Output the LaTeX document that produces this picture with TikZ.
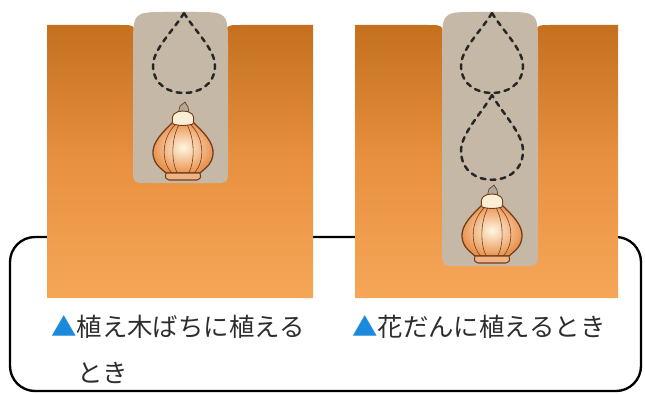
\documentclass[tikz,border=0pt]{standalone}
\usepackage{fontspec}
\newfontfamily\jpfont{Noto Sans CJK JP}

\definecolor{soiltop}{RGB}{196,112,30}
\definecolor{soilmid}{RGB}{232,145,64}
\definecolor{soilbot}{RGB}{246,166,88}
\definecolor{holegrey}{RGB}{198,184,166}
\definecolor{bulbline}{RGB}{112,62,30}
\definecolor{bulbskin}{RGB}{234,146,78}
\definecolor{bulbcore}{RGB}{255,246,226}
\definecolor{collarcream}{RGB}{250,238,212}
\definecolor{tipgrey}{RGB}{176,168,154}
\definecolor{capblue}{RGB}{28,138,220}
\definecolor{captext}{RGB}{45,45,45}

\tikzset{
  soil/.style={top color=soiltop, bottom color=soilbot, middle color=soilmid},
  hole/.style={fill=holegrey},
  dashes/.style={draw=black!85, line width=2.1pt, dash pattern=on 4.2pt off 4.4pt, line cap=round},
  frame/.style={draw=black, line width=2pt, rounded corners=0.75cm},
  caption/.style={font=\jpfont\fontsize{21.7pt}{26pt}\selectfont, text=captext, inner sep=0pt, anchor=west},
  % dashed outline of a bulb that is planted too shallow
  teardrop/.pic={
    \draw[dashes] (0,0) .. controls (-10,17) and (-32,37) .. (-31,54)
      .. controls (-30,72) and (-15,80) .. (0,80)
      .. controls (15,80) and (30,72) .. (31,54)
      .. controls (32,37) and (10,17) .. (0,0);
  },
  % tulip bulb, tip of the shoot at the origin
  bulb/.pic={
    \filldraw[fill=tipgrey, draw=bulbline, line width=0.6pt]
      (-5,12) -- (-3,4) -- (2,0) -- (5,5) -- (6,12) -- cycle;
    \draw[draw=bulbline, line width=1.1pt, inner color=bulbcore, outer color=bulbskin]
      (-10,20) .. controls (-20,30) and (-31,40) .. (-30,52)
      .. controls (-29,63) and (-21,67) .. (-17,71) -- (17,71)
      .. controls (21,67) and (29,63) .. (30,52)
      .. controls (31,40) and (20,30) .. (10,20) -- cycle;
    \foreach \m/\t in {-22/-7, -12/-3.5, 12/3.5, 22/7}
      \draw[bulbline, line width=0.5pt] (\t,22) .. controls (\m,36) and (\m,60) .. ({\t*1.6},71);
    \filldraw[fill=bulbskin!70!white, draw=bulbline, line width=0.9pt]
      (-17,71) .. controls (-18,76) .. (-14,78) -- (14,78) .. controls (18,76) .. (17,71) -- cycle;
    \filldraw[fill=collarcream, draw=bulbline, line width=0.8pt]
      (-10,22) .. controls (-13,12) and (-7,9) .. (0,9)
      .. controls (7,9) and (13,12) .. (10,22)
      .. controls (4,24) and (-4,24) .. (-10,22) -- cycle;
  }
}

\begin{document}
\begin{tikzpicture}[x=0.03cm, y=-0.03cm]
  \useasboundingbox (0,0) rectangle (645,394);

  % caption frame
  \draw[frame] (10,237) rectangle (641,391);

  % flower pot: soil with a shallow hole
  \shade[soil] (47,25) -- (120,25) .. controls (135,25) .. (135,40) -- (135,100) -- (226,100)
    -- (226,40) .. controls (226,25) .. (241,25) -- (313,25) -- (313,298) -- (47,298) -- cycle;
  \fill[hole] (133,48) .. controls (133,12) .. (167,12) -- (194,12) .. controls (228,12) .. (228,48)
    -- (228,168) .. controls (228,183) .. (213,183) -- (148,183) .. controls (133,183) .. (133,168) -- cycle;
  \pic at (184,13) {teardrop};
  \pic at (183,102) {bulb};

  % flower bed: soil with a deep hole
  \shade[soil] (355,25) -- (428,25) .. controls (443,25) .. (443,40) -- (443,100) -- (536,100)
    -- (536,40) .. controls (536,25) .. (551,25) -- (618,25) -- (618,298) -- (355,298) -- cycle;
  \fill[hole] (442,48) .. controls (442,12) .. (476,12) -- (504,12) .. controls (538,12) .. (538,48)
    -- (538,250) .. controls (538,266) .. (522,266) -- (458,266) .. controls (442,266) .. (442,250) -- cycle;
  \pic at (492,13) {teardrop};
  \pic[yscale=1.06] at (492,95) {teardrop};
  \pic at (492,185) {bulb};

  % captions
  \node[caption] (potA) at (51,327) {\textcolor{capblue}{▲}植え木ばちに植える};
  \node[caption] (potB) at (77,373) {とき};
  \node[caption] (bedA) at (352,327) {\textcolor{capblue}{▲}花だんに植えるとき};
\end{tikzpicture}
\end{document}
